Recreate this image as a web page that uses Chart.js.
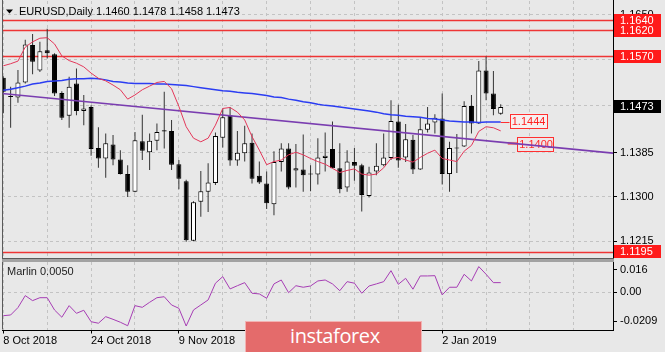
<!DOCTYPE html>
<html>
<head>
<meta charset="utf-8">
<title>EURUSD Daily</title>
<script src="https://cdn.jsdelivr.net/npm/chart.js@4.4.1/dist/chart.umd.min.js"></script>
<style>
  html, body { margin:0; padding:0; background:#e8e8e8; }
  #wrap { position:relative; width:665px; height:352px; overflow:hidden; background:#e8e8e8; }
  canvas { position:absolute; left:0; }
  #mainCanvas { top:0; }
  #indCanvas { top:260px; }
  #sep { position:absolute; left:2px; top:258px; width:612px; height:4px; background:#a2a2a2; border-top:1px solid #5a5a5a; box-sizing:border-box; }
  #logo { position:absolute; left:245px; top:321px; width:177px; height:31px; background:#e46b6b;
          border:1px solid #f2b3b3; border-bottom:none; box-sizing:border-box; color:#fff;
          font-family:"Open Sans","DejaVu Sans",sans-serif; font-size:20px; line-height:28px;
          padding-left:44px; letter-spacing:-0.4px; }
</style>
</head>
<body>
<div id="wrap">
  <canvas id="mainCanvas" width="665" height="260"></canvas>
  <canvas id="indCanvas" width="665" height="92"></canvas>
  <div id="sep"></div>
  <div id="logo">instaforex</div>
</div>
<script>
// ---------------- DATA ----------------
const dates = ['8 Oct 2018','9 Oct 2018','10 Oct 2018','11 Oct 2018','12 Oct 2018','15 Oct 2018','16 Oct 2018','17 Oct 2018','18 Oct 2018','19 Oct 2018',
  '22 Oct 2018','23 Oct 2018','24 Oct 2018','25 Oct 2018','26 Oct 2018','29 Oct 2018','30 Oct 2018','31 Oct 2018','1 Nov 2018','2 Nov 2018',
  '5 Nov 2018','6 Nov 2018','7 Nov 2018','8 Nov 2018','9 Nov 2018','12 Nov 2018','13 Nov 2018','14 Nov 2018','15 Nov 2018','16 Nov 2018',
  '19 Nov 2018','20 Nov 2018','21 Nov 2018','22 Nov 2018','23 Nov 2018','26 Nov 2018','27 Nov 2018','28 Nov 2018','29 Nov 2018','30 Nov 2018',
  '3 Dec 2018','4 Dec 2018','5 Dec 2018','6 Dec 2018','7 Dec 2018','10 Dec 2018','11 Dec 2018','12 Dec 2018','13 Dec 2018','14 Dec 2018',
  '17 Dec 2018','18 Dec 2018','19 Dec 2018','20 Dec 2018','21 Dec 2018','24 Dec 2018','26 Dec 2018','27 Dec 2018','28 Dec 2018','31 Dec 2018',
  '2 Jan 2019','3 Jan 2019','4 Jan 2019','7 Jan 2019','8 Jan 2019','9 Jan 2019','10 Jan 2019','11 Jan 2019','14 Jan 2019'];

const openP  = [1.1529,1.1494,1.1491,1.1520,1.1592,1.1543,1.1582,1.1574,1.1500,1.1456,
  1.1518,1.1465,1.1473,1.1394,1.1374,1.1401,1.1372,1.1344,1.1310,1.1407,
  1.1386,1.1408,1.1428,1.1427,1.1363,1.1330,1.1216,1.1291,1.1310,1.1327,
  1.1414,1.1457,1.1370,1.1384,1.1404,1.1341,1.1326,1.1286,1.1367,1.1393,
  1.1351,1.1353,1.1344,1.1343,1.1375,1.1392,1.1355,1.1318,1.1367,1.1361,
  1.1302,1.1349,1.1361,1.1375,1.1445,1.1376,1.1410,1.1353,1.1429,1.1443,
  1.1451,1.1344,1.1393,1.1397,1.1475,1.1441,1.1543,1.1499,1.1460];
const highP  = [1.1532,1.1512,1.1544,1.1602,1.1613,1.1598,1.1623,1.1576,1.1503,1.1531,
  1.1547,1.1496,1.1476,1.1434,1.1422,1.1419,1.1390,1.1361,1.1425,1.1458,
  1.1422,1.1441,1.1502,1.1448,1.1371,1.1333,1.1292,1.1350,1.1365,1.1424,
  1.1470,1.1473,1.1427,1.1437,1.1422,1.1368,1.1349,1.1388,1.1403,1.1403,
  1.1402,1.1420,1.1361,1.1413,1.1424,1.1445,1.1403,1.1390,1.1394,1.1364,
  1.1358,1.1403,1.1422,1.1486,1.1477,1.1440,1.1419,1.1452,1.1473,1.1459,
  1.1499,1.1406,1.1421,1.1484,1.1496,1.1561,1.1570,1.1542,1.1478];
const lowP   = [1.1461,1.1433,1.1481,1.1518,1.1536,1.1540,1.1566,1.1494,1.1448,1.1433,
  1.1457,1.1438,1.1379,1.1356,1.1337,1.1361,1.1343,1.1300,1.1309,1.1371,
  1.1352,1.1390,1.1393,1.1352,1.1315,1.1214,1.1215,1.1262,1.1271,1.1323,
  1.1395,1.1360,1.1360,1.1368,1.1326,1.1325,1.1277,1.1265,1.1349,1.1315,
  1.1318,1.1310,1.1311,1.1324,1.1349,1.1355,1.1307,1.1310,1.1331,1.1272,
  1.1299,1.1342,1.1359,1.1371,1.1356,1.1367,1.1344,1.1352,1.1424,1.1422,
  1.1324,1.1310,1.1346,1.1396,1.1422,1.1440,1.1486,1.1457,1.1458];
const closeP = [1.1502,1.1492,1.1520,1.1593,1.1560,1.1580,1.1576,1.1499,1.1452,1.1512,
  1.1465,1.1470,1.1392,1.1374,1.1403,1.1372,1.1344,1.1310,1.1409,1.1389,
  1.1408,1.1425,1.1426,1.1362,1.1335,1.1217,1.1290,1.1311,1.1328,1.1417,
  1.1453,1.1370,1.1385,1.1403,1.1335,1.1328,1.1288,1.1367,1.1393,1.1318,
  1.1355,1.1342,1.1343,1.1376,1.1379,1.1355,1.1315,1.1368,1.1360,1.1304,
  1.1347,1.1360,1.1376,1.1446,1.1370,1.1411,1.1353,1.1430,1.1441,1.1452,
  1.1344,1.1394,1.1394,1.1475,1.1441,1.1543,1.1499,1.1469,1.1473];

// fast moving average (red)
const maFast = [1.1552,1.1556,1.1561,1.1588,1.1598,1.1605,1.1606,1.1594,1.1571,1.1562,
  1.1557,1.1550,1.1538,1.1528,1.1523,1.1515,1.1506,1.1488,1.1496,1.1506,
  1.1513,1.1520,1.1522,1.1508,1.1474,1.1435,1.1413,1.1406,1.1413,1.1438,
  1.1470,1.1472,1.1463,1.1448,1.1416,1.1390,1.1362,1.1368,1.1371,1.1381,
  1.1386,1.1381,1.1374,1.1368,1.1363,1.1355,1.1347,1.1351,1.1354,1.1344,
  1.1342,1.1344,1.1356,1.1374,1.1376,1.1371,1.1367,1.1376,1.1384,1.1390,
  1.1374,1.1371,1.1368,1.1388,1.1399,1.1426,1.1435,1.1433,1.1427];
// slow moving average (blue)
const maSlow = [1.1505,1.1507,1.1510,1.1513,1.1517,1.1519,1.1522,1.1523,1.1524,1.1526,
  1.1527,1.1527,1.1528,1.1527,1.1525,1.1522,1.1521,1.1519,1.1518,1.1518,
  1.1518,1.1517,1.1517,1.1516,1.1515,1.1514,1.1512,1.1510,1.1508,1.1506,
  1.1504,1.1503,1.1501,1.1500,1.1499,1.1497,1.1495,1.1492,1.1491,1.1488,
  1.1486,1.1483,1.1481,1.1478,1.1476,1.1475,1.1473,1.1471,1.1469,1.1467,
  1.1465,1.1463,1.1460,1.1458,1.1457,1.1455,1.1454,1.1453,1.1451,1.1450,
  1.1448,1.1446,1.1445,1.1444,1.1444,1.1443,1.1444,1.1444,1.1444];

// trend line anchors (bar index, price)
const trendBars   = [-1, 85];
const trendPrices = [1.1500, 1.1382];
const trendLabelPrice = 1.1400;

// horizontal levels
const levelPrices = [1.1640, 1.1620, 1.1570, 1.1195];
const priceTicks  = [1.1215, 1.1300, 1.1385, 1.1475, 1.1565, 1.1650];

// Marlin oscillator
const marlin = [-0.0168,-0.0163,-0.0110,-0.0024,-0.0060,-0.0039,-0.0039,-0.0127,-0.0179,-0.0096,
  -0.0151,-0.0129,-0.0211,-0.0222,-0.0175,-0.0194,-0.0215,-0.0240,-0.0096,-0.0108,
  -0.0072,-0.0039,-0.0032,-0.0091,-0.0115,-0.0242,-0.0127,-0.0091,-0.0055,0.0065,
  0.0112,0.0024,0.0047,0.0069,-0.0007,-0.0012,-0.0043,0.0060,0.0088,-0.0003,
  0.0047,0.0036,0.0045,0.0081,0.0088,0.0060,0.0011,0.0076,0.0065,-0.0007,
  0.0045,0.0060,0.0076,0.0155,0.0057,0.0100,0.0022,0.0117,0.0117,0.0119,
  -0.0019,0.0036,0.0036,0.0129,0.0081,0.0184,0.0129,0.0069,0.0069];
const marlinTicks = [0.016, 0, -0.0209];
const marlinTickLabels = ['0.016', '0.00', '-0.0209'];
const marlinTitle = 'Marlin 0.0050';

const gridBars  = [0,6,12,18,24,30,36,42,48,54,60,66,72,78];
const labelBars = [0,12,24,36,48,60];
const chartTitle = 'EURUSD,Daily';

// ---------------- CHARTS ----------------
const FONT = '"Liberation Sans", Arial, sans-serif';
Chart.defaults.font.family = FONT;
Chart.defaults.font.size = 11;
Chart.defaults.color = '#000';
const GRID = '#c3c3c3';
const N = dates.length;
const X_MIN = -0.18, X_MAX = 83.35;

const mainDecor = {
  id: 'mainDecor',
  beforeDatasetsDraw(chart) {
    const {ctx, chartArea: a, scales: {x, y}} = chart;
    ctx.save();
    levelPrices.forEach(p => {
      const py = Math.round(y.getPixelForValue(p)) + 0.5;
      ctx.strokeStyle = '#ee3535';
      ctx.lineWidth = 1.5;
      ctx.beginPath(); ctx.moveTo(a.left, py); ctx.lineTo(a.right, py); ctx.stroke();
    });
    // trend line price label (under the line)
    const lx = x.getPixelForValue(N - 1);
    const ty = y.getPixelForValue(trendLabelPrice);
    ctx.strokeStyle = 'rgba(240,110,110,0.85)';
    ctx.lineWidth = 3;
    ctx.beginPath(); ctx.moveTo(lx + 7, ty - 1.5); ctx.lineTo(lx + 16.5, ty - 1.5); ctx.stroke();
    ctx.fillStyle = '#eee6e8';
    ctx.fillRect(lx + 16.5, ty - 7.5, 37, 15);
    ctx.strokeStyle = '#ff3030'; ctx.lineWidth = 1;
    ctx.strokeRect(Math.round(lx + 16.5) + 0.5, Math.round(ty - 7.5) + 0.5, 36, 14);
    ctx.fillStyle = '#ff2a2a';
    ctx.font = '11px ' + FONT;
    ctx.textBaseline = 'middle'; ctx.textAlign = 'left';
    ctx.fillText(trendLabelPrice.toFixed(4), lx + 18.5, ty + 0.5);
    ctx.restore();
  },
  afterDatasetsDraw(chart) {
    const {ctx, chartArea: a, scales: {x, y}} = chart;
    ctx.save();
    // slow MA label
    const lx = x.getPixelForValue(N - 1);
    const my = y.getPixelForValue(maSlow[N - 1]);
    ctx.strokeStyle = '#ff3030'; ctx.lineWidth = 1;
    ctx.beginPath(); ctx.moveTo(lx, Math.round(my) + 0.5); ctx.lineTo(lx + 9, Math.round(my) + 0.5); ctx.stroke();
    ctx.fillStyle = '#f6eff0';
    ctx.fillRect(lx + 9, my - 8.5, 38, 15);
    ctx.strokeRect(Math.round(lx + 9) + 0.5, Math.round(my - 8.5) + 0.5, 37, 14);
    ctx.fillStyle = '#ff2020';
    ctx.font = '11px ' + FONT;
    ctx.textBaseline = 'middle'; ctx.textAlign = 'left';
    ctx.fillText(maSlow[N - 1].toFixed(4), lx + 11, my - 0.5);
    // borders
    ctx.strokeStyle = '#5a5a5a'; ctx.lineWidth = 1;
    ctx.beginPath(); ctx.moveTo(a.left + 0.5, 0); ctx.lineTo(a.left + 0.5, a.bottom + 2); ctx.stroke();
    ctx.strokeStyle = '#000';
    ctx.beginPath(); ctx.moveTo(a.right + 0.5, 0); ctx.lineTo(a.right + 0.5, a.bottom + 2); ctx.stroke();
    // title
    ctx.fillStyle = '#000';
    ctx.beginPath(); ctx.moveTo(6, 9.5); ctx.lineTo(13, 9.5); ctx.lineTo(9.5, 13.5); ctx.closePath(); ctx.fill();
    const last = N - 1;
    const titleText = chartTitle + ' ' + [openP[last], highP[last], lowP[last], closeP[last]].map(v => v.toFixed(4)).join(' ');
    ctx.font = '11px ' + FONT;
    ctx.textBaseline = 'middle'; ctx.textAlign = 'left';
    ctx.fillText(titleText, 19, 12);
    ctx.restore();
  },
  afterDraw(chart) {
    const {ctx, scales: {y}} = chart;
    ctx.save();
    const bx = y.left + 1, bw = 47, bh = 13;
    const boxes = levelPrices.map(p => ({p, bg: '#ff1a1a'}));
    boxes.push({p: closeP[N - 1], bg: '#000'});
    boxes.forEach(b => {
      const py = y.getPixelForValue(b.p);
      ctx.fillStyle = b.bg;
      ctx.fillRect(bx, Math.round(py - 6.5), bw, bh);
    });
    ctx.font = '11px ' + FONT;
    ctx.textBaseline = 'middle'; ctx.textAlign = 'left';
    ctx.fillStyle = '#fff';
    boxes.forEach(b => {
      const py = y.getPixelForValue(b.p);
      ctx.fillText(b.p.toFixed(4), y.left + 7, py + 0.5);
    });
    ctx.restore();
  }
};

const candleColors = closeP.map((c, i) => c > openP[i] ? '#ffffff' : '#000000');

new Chart(document.getElementById('mainCanvas'), {
  type: 'bar',
  data: {
    datasets: [
      { type: 'line', data: maFast.map((v, i) => ({x: i, y: v})), borderColor: '#e3385a', borderWidth: 1, pointRadius: 0, tension: 0, order: 0 },
      { type: 'line', data: maSlow.map((v, i) => ({x: i, y: v})), borderColor: '#2b3df2', borderWidth: 1.5, pointRadius: 0, tension: 0, order: 0 },
      { type: 'line', data: trendBars.map((b, i) => ({x: b, y: trendPrices[i]})), borderColor: '#7a3db0', borderWidth: 1.5, pointRadius: 0, tension: 0, order: 0 },
      { type: 'bar', data: openP.map((o, i) => ({x: i, y: [o, closeP[i]]})), backgroundColor: candleColors,
        borderColor: '#000', borderWidth: 1, borderSkipped: false, grouped: false, maxBarThickness: 5, barThickness: 5,
        minBarLength: 1, inflateAmount: 0, order: 1 },
      { type: 'bar', data: lowP.map((l, i) => ({x: i, y: [l, highP[i]]})), backgroundColor: '#333',
        borderWidth: 0, grouped: false, maxBarThickness: 1, barThickness: 1, inflateAmount: 0, order: 2 }
    ]
  },
  options: {
    responsive: false, animation: false, devicePixelRatio: 1, events: [],
    layout: { padding: {left: 2, top: 1, right: 0, bottom: 2}, autoPadding: false },
    plugins: { legend: {display: false}, tooltip: {enabled: false} },
    scales: {
      x: { type: 'linear', min: X_MIN, max: X_MAX, offset: false,
           afterBuildTicks: s => { s.ticks = gridBars.map(v => ({value: v})); },
           afterFit: s => { s.height = 0; s.paddingLeft = 0; s.paddingRight = 0; },
           ticks: {display: false},
           grid: {color: GRID, drawTicks: false, offset: false, lineWidth: 1},
           border: {display: false, dash: [3, 3]} },
      y: { type: 'linear', position: 'right', min: 1.11828, max: 1.16765, stacked: false,
           afterBuildTicks: s => { s.ticks = priceTicks.map(v => ({value: v})); },
           afterFit: s => { s.width = 52; s.paddingTop = 0; s.paddingBottom = 0; },
           ticks: {padding: 3, autoSkip: false, callback: v => Number(v).toFixed(4)},
           grid: {color: GRID, tickColor: '#000', tickLength: 4, lineWidth: 1},
           border: {display: false, dash: [3, 3]} }
    }
  },
  plugins: [mainDecor]
});

const indDecor = {
  id: 'indDecor',
  afterDraw(chart) {
    const {ctx, chartArea: a} = chart;
    ctx.save();
    ctx.strokeStyle = '#5a5a5a'; ctx.lineWidth = 1;
    ctx.beginPath(); ctx.moveTo(a.left + 0.5, 0); ctx.lineTo(a.left + 0.5, a.bottom); ctx.stroke();
    ctx.strokeStyle = '#000';
    ctx.beginPath(); ctx.moveTo(a.right + 0.5, 0); ctx.lineTo(a.right + 0.5, a.bottom + 0.5); ctx.stroke();
    ctx.beginPath(); ctx.moveTo(a.left, Math.round(a.bottom) + 0.5); ctx.lineTo(a.right + 1, Math.round(a.bottom) + 0.5); ctx.stroke();
    ctx.fillStyle = '#222';
    ctx.font = '11px ' + FONT;
    ctx.textBaseline = 'middle'; ctx.textAlign = 'left';
    ctx.fillText(marlinTitle, 7, 12);
    ctx.restore();
  }
};

new Chart(document.getElementById('indCanvas'), {
  type: 'line',
  data: { datasets: [
    { data: marlin.map((v, i) => ({x: i, y: v})), borderColor: '#a63db4', borderWidth: 1, pointRadius: 0, tension: 0 }
  ]},
  options: {
    responsive: false, animation: false, devicePixelRatio: 1, events: [],
    layout: { padding: {left: 2, top: 2, right: 0, bottom: 0}, autoPadding: false },
    plugins: { legend: {display: false}, tooltip: {enabled: false} },
    scales: {
      x: { type: 'linear', min: X_MIN, max: X_MAX, offset: false,
           afterBuildTicks: s => { s.ticks = gridBars.map(v => ({value: v})); },
           afterFit: s => { s.height = 22.5; s.paddingLeft = 0; s.paddingRight = 0; },
           ticks: {autoSkip: false, maxRotation: 0, minRotation: 0, align: 'start', padding: 1,
                   callback: v => (labelBars.includes(v) && v < N) ? dates[v] : ''},
           grid: {color: GRID, offset: false, tickLength: 4,
                  tickColor: c => (c.tick && labelBars.includes(c.tick.value)) ? '#000' : 'rgba(0,0,0,0)'},
           border: {display: false, dash: [3, 3]} },
      y: { type: 'linear', position: 'right', min: -0.0267, max: 0.0217,
           afterBuildTicks: s => { s.ticks = marlinTicks.map(v => ({value: v})); },
           afterFit: s => { s.width = 52; s.paddingTop = 0; s.paddingBottom = 0; },
           ticks: {padding: 3, autoSkip: false, callback: (v, i) => marlinTickLabels[i]},
           grid: {color: c => (c.tick && c.tick.value === 0) ? GRID : 'rgba(0,0,0,0)', tickColor: '#000', tickLength: 4},
           border: {display: false, dash: [3, 3]} }
    }
  },
  plugins: [indDecor]
});
</script>
</body>
</html>
